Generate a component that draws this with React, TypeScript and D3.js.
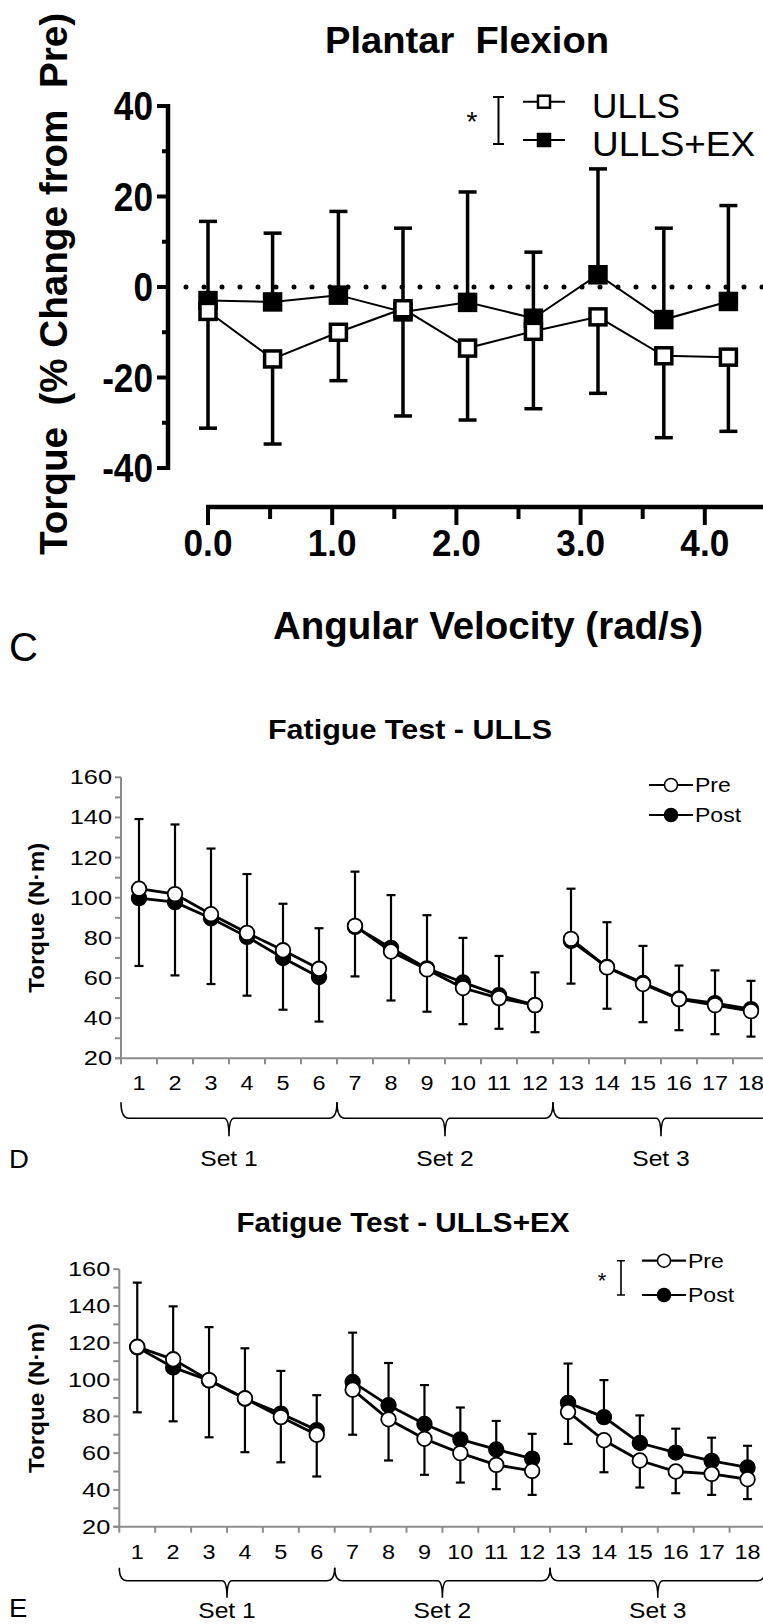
import React, { useRef, useEffect } from 'react';
import * as d3 from 'd3';

const FONT = '"Liberation Sans", Arial, sans-serif';

// Panel C: plantar flexion torque, % change from pre
const velocities = [0, 0.52, 1.05, 1.57, 2.09, 2.62, 3.14, 3.67, 4.19];
const ullsMean = [-5.4, -15.9, -10.0, -4.8, -13.5, -9.8, -6.6, -15.2, -15.5];
const ullsSd = [25.8, 18.8, 10.7, 23.7, 15.9, 17.1, 16.9, 18.1, 16.4];
const ullsExMean = [-3.0, -3.3, -1.8, -5.5, -3.4, -6.9, 2.7, -7.2, -3.2];
const ullsExSd = [17.5, 15.2, 18.5, 18.5, 24.4, 14.6, 23.4, 20.2, 21.2];
const velTicks = [0, 1, 2, 3, 4];
const velMinor = [0.5, 1.5, 2.5, 3.5];
const pctTicks = [-40, -20, 0, 20, 40];
const pctMinor = [-30, -10, 10, 30];

// Panels D and E: fatigue test, 3 sets of 6 reps
const reps = ['1', '2', '3', '4', '5', '6', '7', '8', '9', '10', '11', '12', '13', '14', '15', '16', '17', '18'];
const sets = ['Set 1', 'Set 2', 'Set 3'];
const nmTicks = [20, 40, 60, 80, 100, 120, 140, 160];

const ullsPre = [104.5, 101.8, 91.8, 82.5, 73.8, 64.6, 86, 73.2, 64.3, 55, 50, 46.5, 79.5, 65.3, 57, 49.5, 46.5, 43.5];
const ullsPreSd = [34.7, 34.7, 32.7, 29.3, 23.2, 20.2, 27, 28.1, 27, 25, 21, 16.3, 25, 22.5, 19, 16.7, 17.3, 15.1];
const ullsPost = [99.8, 97.8, 89.8, 80.5, 70, 60.5, 85.5, 75, 64.8, 57.8, 51.5, 46.5, 78.5, 65.5, 57.5, 49.8, 47.5, 44.5];
const ullsPostSd = [33.8, 36.5, 32.8, 29.3, 25.8, 22.2, 24.7, 26.2, 21.6, 20.8, 16.8, 13.5, 21.3, 20.8, 19.5, 15.8, 15.5, 13.7];

const exPre = [117.8, 111, 99.7, 89.8, 79.6, 70, 94.5, 78.4, 67.8, 60, 53.6, 50.3, 82.4, 67, 56, 50, 48.7, 45.8];
const exPreSd = [35.6, 33.7, 31.1, 29.3, 24.6, 22.7, 24.5, 22.4, 19.6, 16, 13.2, 13, 17.4, 17.4, 14.7, 11.8, 11.4, 10.8];
const exPost = [117.5, 106.6, 99.5, 89.6, 81.5, 72.5, 98.7, 86, 75.8, 67.5, 62, 57, 87.3, 79.6, 65.5, 60.3, 55.8, 52.2];
const exPostSd = [35.2, 33.2, 29, 27.4, 23.2, 19, 26.8, 23, 21.2, 17.3, 15.5, 13.5, 21.4, 20.1, 15, 13, 12.6, 11.8];

type Sel = d3.Selection<any, unknown, null, undefined>;

// text helper; len = fixed width, stretch = factor on the natural width
const label = (g: Sel, x: number, y: number, txt: string, size: number, opts: any = {}) => {
  const t = g
    .append('text')
    .attr('x', x)
    .attr('y', y)
    .attr('font-size', size)
    .attr('font-weight', opts.bold ? 'bold' : 'normal')
    .attr('text-anchor', opts.anchor || 'start')
    .attr('fill', '#000')
    .style('white-space', 'pre')
    .text(txt);
  if (opts.dy) t.attr('dy', opts.dy);
  let len = opts.len;
  if (!len && opts.stretch) {
    const node = t.node() as SVGTextElement;
    len = node.getComputedTextLength() * opts.stretch;
  }
  if (len) t.attr('textLength', len).attr('lengthAdjust', 'spacingAndGlyphs');
  if (opts.rotate) t.attr('transform', `rotate(-90, ${x}, ${y})`);
  return t;
};

const drawPanelC = (svg: Sel) => {
  const g = svg.append('g').attr('font-family', FONT);
  const x = d3.scaleLinear().domain([0, 4]).range([208, 704.8]);
  const y = d3.scaleLinear().domain([-40, 40]).range([468, 106]);

  label(g, 467, 53, 'Plantar  Flexion', 36, { bold: true, anchor: 'middle', len: 284 });

  // y axis
  g.append('line').attr('x1', 168).attr('x2', 168).attr('y1', y(40) - 2).attr('y2', y(-40) + 2)
    .attr('stroke', '#000').attr('stroke-width', 4.5);
  g.selectAll('.ymaj').data(pctTicks).enter().append('line')
    .attr('x1', 157).attr('x2', 168).attr('y1', (d) => y(d)).attr('y2', (d) => y(d))
    .attr('stroke', '#000').attr('stroke-width', 4);
  g.selectAll('.ymin').data(pctMinor).enter().append('line')
    .attr('x1', 162).attr('x2', 168).attr('y1', (d) => y(d)).attr('y2', (d) => y(d))
    .attr('stroke', '#000').attr('stroke-width', 4);
  pctTicks.forEach((v) => label(g, 153, y(v), String(v), 40, { bold: true, anchor: 'end', dy: '0.36em', stretch: 0.88 }));

  // x axis
  g.append('line').attr('x1', 206).attr('x2', 763).attr('y1', 507).attr('y2', 507)
    .attr('stroke', '#000').attr('stroke-width', 4.5);
  g.selectAll('.xmaj').data(velTicks).enter().append('line')
    .attr('x1', (d) => x(d)).attr('x2', (d) => x(d)).attr('y1', 507).attr('y2', 525)
    .attr('stroke', '#000').attr('stroke-width', 4);
  g.selectAll('.xmin').data(velMinor).enter().append('line')
    .attr('x1', (d) => x(d)).attr('x2', (d) => x(d)).attr('y1', 507).attr('y2', 519)
    .attr('stroke', '#000').attr('stroke-width', 4);
  velTicks.forEach((v) => label(g, x(v), 556, d3.format('.1f')(v), 37, { bold: true, anchor: 'middle', stretch: 0.95 }));

  label(g, 488, 639, 'Angular Velocity (rad/s)', 38, { bold: true, anchor: 'middle', len: 430 });
  label(g, 67, 284, 'Torque  (% Change from  Pre)', 38, { bold: true, anchor: 'middle', len: 542, rotate: true });
  label(g, 9, 661, 'C', 40);

  // zero reference
  g.append('line').attr('x1', 186).attr('x2', 763).attr('y1', y(0)).attr('y2', y(0))
    .attr('stroke', '#000').attr('stroke-width', 5).attr('stroke-linecap', 'round')
    .attr('stroke-dasharray', '0 18');

  const series = [
    { mean: ullsExMean, sd: ullsExSd, dir: 1, fill: '#000' },
    { mean: ullsMean, sd: ullsSd, dir: -1, fill: '#fff' },
  ];
  series.forEach((s) => {
    velocities.forEach((v, i) => {
      const y0 = y(s.mean[i]);
      const y1 = y(s.mean[i] + s.dir * s.sd[i]);
      g.append('line').attr('x1', x(v)).attr('x2', x(v)).attr('y1', y0).attr('y2', y1)
        .attr('stroke', '#000').attr('stroke-width', 3.5);
      g.append('line').attr('x1', x(v) - 9).attr('x2', x(v) + 9).attr('y1', y1).attr('y2', y1)
        .attr('stroke', '#000').attr('stroke-width', 3.5);
    });
  });
  series.forEach((s) => {
    const line = d3.line<number>().x((d, i) => x(velocities[i])).y((d) => y(d));
    g.append('path').attr('d', line(s.mean)).attr('fill', 'none').attr('stroke', '#000').attr('stroke-width', 2);
    g.selectAll(null).data(s.mean).enter().append('rect')
      .attr('x', (d, i) => x(velocities[i]) - 8).attr('y', (d) => y(d) - 8)
      .attr('width', 16).attr('height', 16)
      .attr('fill', s.fill).attr('stroke', '#000').attr('stroke-width', 3.5);
  });

  // legend
  g.append('text').attr('x', 472).attr('y', 131).attr('font-size', 28).attr('text-anchor', 'middle').text('*');
  g.append('path').attr('d', 'M493,97 H504 M498.5,97 V144 M493,144 H504')
    .attr('stroke', '#000').attr('stroke-width', 2).attr('fill', 'none');
  [
    { name: 'ULLS', fill: '#fff', cy: 101.7, len: 88 },
    { name: 'ULLS+EX', fill: '#000', cy: 140, len: 163 },
  ].forEach((it) => {
    g.append('line').attr('x1', 523).attr('x2', 565).attr('y1', it.cy).attr('y2', it.cy)
      .attr('stroke', '#000').attr('stroke-width', 2);
    g.append('rect').attr('x', 538).attr('y', it.cy - 6).attr('width', 12).attr('height', 12)
      .attr('fill', it.fill).attr('stroke', '#000').attr('stroke-width', 2.5);
    label(g, 592, it.cy + 16, it.name, 35, { len: it.len });
  });
};

const drawFatigue = (svg: Sel, cfg: any) => {
  const g = svg.append('g').attr('font-family', FONT);
  const { x, y } = cfg;
  const bw = x.bandwidth();
  const x0 = x.range()[0];
  const base = y(20);
  const grey = '#8c8c8c';

  label(g, cfg.titleX, cfg.titleY, cfg.title, 27, { bold: true, anchor: 'middle', len: cfg.titleLen });

  // axes
  g.append('line').attr('x1', x0).attr('x2', x0).attr('y1', y(160)).attr('y2', base + 1)
    .attr('stroke', grey).attr('stroke-width', 2);
  g.append('line').attr('x1', x0 - 6).attr('x2', 763).attr('y1', base).attr('y2', base)
    .attr('stroke', grey).attr('stroke-width', 2);
  const allTicks = d3.range(20, 161, 10);
  g.selectAll(null).data(allTicks).enter().append('line')
    .attr('x1', x0 - 6).attr('x2', x0).attr('y1', (d) => y(d)).attr('y2', (d) => y(d))
    .attr('stroke', grey).attr('stroke-width', 2);
  nmTicks.forEach((v) => label(g, x0 - 9, y(v), String(v), 19.5, { anchor: 'end', dy: '0.36em', stretch: 1.3 }));
  const bounds = reps.map((r) => x(r)).concat([x(reps[reps.length - 1]) + bw]);
  g.selectAll(null).data(bounds.filter((b) => b < 763)).enter().append('line')
    .attr('x1', (d) => d).attr('x2', (d) => d).attr('y1', base).attr('y2', base + 6)
    .attr('stroke', grey).attr('stroke-width', 2);
  reps.forEach((r) => label(g, x(r) + bw / 2, base + 32, r, 19.5, { anchor: 'middle', stretch: 1.2 }));

  // set braces
  sets.forEach((s, k) => {
    const a = x(reps[k * 6]);
    const b = x(reps[k * 6 + 5]) + bw;
    const m = (a + b) / 2;
    const yT = base + cfg.brace[0];
    const yL = base + cfg.brace[1];
    const yS = base + cfg.brace[2];
    g.append('path')
      .attr('d', `M${a},${yT} Q${a},${yL} ${a + 8},${yL} L${m - 5},${yL} Q${m},${yL} ${m},${yS} Q${m},${yL} ${m + 5},${yL} L${b - 8},${yL} Q${b},${yL} ${b},${yT}`)
      .attr('fill', 'none').attr('stroke', '#000').attr('stroke-width', 1.6);
    label(g, m, base + cfg.setDy, s, 22, { anchor: 'middle', stretch: 1.12 });
  });

  label(g, 9, base + cfg.letterDy, cfg.letter, 25, { stretch: 1.1 });
  label(g, 44, (y(20) + y(160)) / 2, 'Torque (N·m)', 22, { bold: true, anchor: 'middle', len: 150, rotate: true });

  const series = [
    { v: cfg.post, sd: cfg.postSd, dir: cfg.postDir, fill: '#000' },
    { v: cfg.pre, sd: cfg.preSd, dir: -cfg.postDir, fill: '#fff' },
  ];
  const cx = (i: number) => x(reps[i]) + bw / 2;
  series.forEach((s) => {
    s.v.forEach((v: number, i: number) => {
      const y1 = y(v + s.dir * s.sd[i]);
      g.append('line').attr('x1', cx(i)).attr('x2', cx(i)).attr('y1', y(v)).attr('y2', y1)
        .attr('stroke', '#000').attr('stroke-width', 2.2);
      g.append('line').attr('x1', cx(i) - 4.5).attr('x2', cx(i) + 4.5).attr('y1', y1).attr('y2', y1)
        .attr('stroke', '#000').attr('stroke-width', 2.2);
    });
  });
  series.forEach((s) => {
    sets.forEach((st, k) => {
      const idx = d3.range(k * 6, k * 6 + 6);
      const line = d3.line<number>().x((i) => cx(i)).y((i) => y(s.v[i]));
      g.append('path').attr('d', line(idx)).attr('fill', 'none').attr('stroke', '#000').attr('stroke-width', 2.8);
    });
    g.selectAll(null).data(s.v).enter().append('circle')
      .attr('cx', (d, i) => cx(i)).attr('cy', (d: any) => y(d)).attr('r', 7.3)
      .attr('fill', s.fill).attr('stroke', '#000').attr('stroke-width', 1.8);
  });

  // legend
  const lg = cfg.legend;
  if (lg.star) {
    g.append('text').attr('x', lg.x - 40).attr('y', (lg.y1 + lg.y2) / 2 + 10).attr('font-size', 22)
      .attr('text-anchor', 'middle').text('*');
    g.append('path')
      .attr('d', `M${lg.x - 25},${lg.y1} H${lg.x - 17} M${lg.x - 21},${lg.y1} V${lg.y2} M${lg.x - 25},${lg.y2} H${lg.x - 17}`)
      .attr('stroke', '#000').attr('stroke-width', 1.6).attr('fill', 'none');
  }
  [
    { name: 'Pre', fill: '#fff', cy: lg.y1 },
    { name: 'Post', fill: '#000', cy: lg.y2 },
  ].forEach((it) => {
    g.append('line').attr('x1', lg.x).attr('x2', lg.x + 44).attr('y1', it.cy).attr('y2', it.cy)
      .attr('stroke', '#000').attr('stroke-width', 2.2);
    g.append('circle').attr('cx', lg.x + 22).attr('cy', it.cy).attr('r', 6.5)
      .attr('fill', it.fill).attr('stroke', '#000').attr('stroke-width', 1.5);
    label(g, lg.x + 46, it.cy + 7, it.name, 20, { stretch: 1.15 });
  });
};

const App = () => {
  const Svg = useRef<SVGSVGElement>(null);
  useEffect(() => {
    const svg = d3.select(Svg.current) as Sel;
    svg.selectAll('*').remove();

    drawPanelC(svg);

    drawFatigue(svg, {
      x: d3.scaleBand().domain(reps).range([121, 769]),
      y: d3.scaleLinear().domain([20, 160]).range([1058.3, 777.3]),
      title: 'Fatigue Test - ULLS',
      titleX: 410,
      titleY: 739,
      titleLen: 284,
      letter: 'D',
      brace: [44, 60, 78],
      setDy: 108,
      letterDy: 110,
      pre: ullsPre,
      preSd: ullsPreSd,
      post: ullsPost,
      postSd: ullsPostSd,
      postDir: -1,
      legend: { x: 649, y1: 785, y2: 815, star: false },
    });

    drawFatigue(svg, {
      x: d3.scaleBand().domain(reps).range([119.3, 765.5]),
      y: d3.scaleLinear().domain([20, 160]).range([1526.7, 1269.2]),
      title: 'Fatigue Test - ULLS+EX',
      titleX: 403,
      titleY: 1232,
      titleLen: 333,
      letter: 'E',
      brace: [41, 54, 71],
      setDy: 91.5,
      letterDy: 90,
      pre: exPre,
      preSd: exPreSd,
      post: exPost,
      postSd: exPostSd,
      postDir: 1,
      legend: { x: 642, y1: 1260.7, y2: 1295, star: true },
    });
  }, []);

  return (
    <svg
      ref={Svg}
      width={763}
      height={1624}
      style={{ position: 'absolute', left: 0, top: 0, background: '#fff' }}
    />
  );
};

export default App;
